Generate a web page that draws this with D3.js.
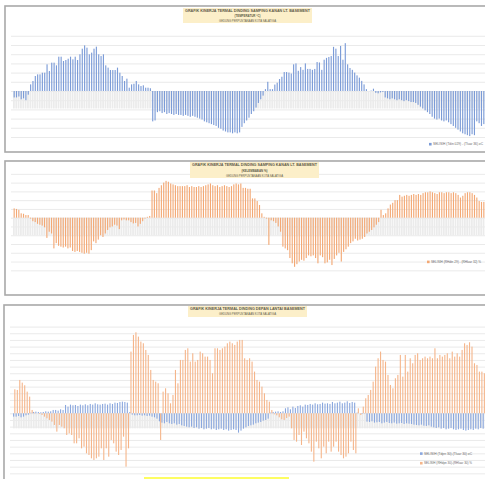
<!DOCTYPE html>
<html>
<head>
<meta charset="utf-8">
<script src="https://cdn.jsdelivr.net/npm/d3@7"></script>
<style>
    body { margin: 0; background: #fff; }
    svg { display: block; font-family: "Liberation Sans", Arial, sans-serif; }
</style>
</head>
<body>
<div id="chart"></div>
<script>
// Panel 1: temperature difference (oC), one bar per reading
const p1Temp = [
    -0.7, -0.7, -0.6, -0.9, -0.8, -1.0, -0.4,
    0.72, 1.09, 1.63, 1.81, 1.81, 1.99, 1.99, 2.9, 2.17, 3.08, 3.08, 2.79, 3.73, 3.73, 3.26, 3.37, 3.51, 3.73,
    3.44, 3.73, 3.37, 3.99, 4.6, 4.96, 4.71, 3.99, 4.17, 4.6, 4.82, 3.99, 3.8, 3.99, 2.79, 2.54, 2.28, 2.28,
    2.28, 2.54, 1.99, 1.63, 1.09, 1.34, 0.36, 0.72, 0.79, 1.09, 0.72, 0.54, 0.62, 0.36, 0.36, 0.3,
    -3.3, -3.2, -2.3, -2.2, -2.4, -2.3, -2.5, -2.4, -2.5, -2.6, -2.5, -2.6, -2.6, -2.7, -2.6, -2.7, -2.8, -2.7,
    -2.8, -2.9, -3.0, -3.1, -3.3, -3.4, -3.5, -3.6, -3.7, -3.8, -4.0, -4.1, -4.3, -4.4, -4.5, -4.5, -4.6, -4.5,
    -4.6, -4.5, -3.9, -3.5, -3.2, -2.9, -2.5, -2.2, -1.8, -1.3, -0.9, -0.5,
    0.2, 1.0, 0.2, 0.2, 0.7, 0.9, 1.3, 1.55, 2.06, 2.06, 2.0, 1.9, 2.9, 3.0, 2.2, 2.6, 2.3, 3.0, 2.4, 2.4, 2.3,
    2.4, 3.15, 3.1, 2.3, 3.4, 3.6, 3.7, 3.8, 4.8, 4.6, 3.8, 4.9, 3.4, 5.2, 2.9, 2.5, 2.3, 2.0, 1.7, 1.45, 1.1,
    0.72, 0.2,
    0.0, 0.05, 0.25, -0.2, -0.25, -0.15, -0.1,
    -0.7, -0.8, -0.9, -0.8, -0.9, -1.0, -0.9, -1.0, -1.1, -1.0, -1.1, -1.2, -1.2, -1.3, -1.5, -1.7, -1.9, -2.1,
    -2.3, -2.5, -2.8, -3.0, -3.1, -3.0, -3.2, -3.3, -3.2, -3.4, -3.6, -3.8, -4.0, -4.2, -4.4, -4.6, -4.7, -4.8,
    -4.9, -4.7, -4.8, -3.3, -3.5, -3.8, -3.6
];

// Panel 2: humidity difference (%)
const p2Humid = [
    1.06, 1.0, 0.9, 0.5, 0.45, 0.3, 0.3, -0.1, -0.4, -0.5, -0.7, -0.8, -0.9, -1.1, -2.3, -1.6, -1.8, -3.5, -2.9,
    -3.2, -3.3, -3.4, -3.3, -3.5, -3.4, -3.8, -3.9, -3.8, -3.9, -4.0, -4.1, -4.0, -4.1, -3.7, -2.7, -2.9, -2.5,
    -2.0, -2.2, -1.8, -1.4, -1.1, -1.0, -0.8, -0.9, -1.3, -0.3, -0.2, -0.3, -0.3, -0.5, -0.65, -0.6, -1.0, -0.7,
    -0.4, -0.1, 0.1, 0.2,
    3.1, 3.1, 2.8, 3.4, 3.7, 4.0, 4.2, 4.1, 3.9, 3.8, 3.7, 3.6, 3.6, 3.6, 3.6, 3.7, 3.5, 3.6, 3.5, 3.5, 3.6, 3.5,
    3.6, 3.7, 3.8, 3.9, 3.7, 3.6, 3.7, 3.5, 3.6, 3.7, 3.6, 3.5, 3.6, 3.8, 3.9, 3.8, 3.9, 3.4, 3.4, 3.3, 3.3, 2.2,
    2.2, 1.9, 1.45, 0.5, 0.1,
    -0.1, -3.1, -0.3, -0.4, -0.6, -1.0, -1.6, -3.3, -3.5, -3.7, -4.6, -5.2, -5.6, -5.3, -5.0, -4.8, -4.9, -4.6,
    -4.3, -4.4, -4.3, -4.6, -5.2, -4.3, -4.5, -5.2, -5.1, -4.8, -5.4, -4.7, -4.3, -4.0, -5.0, -3.9, -3.6, -3.3,
    -2.9, -2.7, -2.4, -2.6, -2.5, -2.4, -2.2, -1.8, -1.6, -1.4, -1.1, -0.8, -0.5,
    0.9, 0.3, 0.5, 1.06, 1.5, 1.7, 2.0, 2.0, 2.6, 2.4, 2.5, 2.6, 2.5, 2.6, 2.7, 2.6, 2.7, 2.6, 2.8, 2.9, 2.9,
    3.0, 2.9, 2.8, 2.7, 2.9, 2.9, 2.8, 2.9, 2.9, 2.8, 2.9, 2.8, 2.6, 2.3, 2.5, 2.8, 2.9, 2.9, 2.8, 2.6, 2.3,
    1.9, 1.8, 1.8
];

// Panel 3: front wall, temperature (blue) and humidity (orange)
const p3Temp = [
    -0.5, -0.5, -0.4, -0.6, -0.5, -0.3, -0.2,
    0.1, 0.2, 0.25, 0.2, 0.15, 0.2, 0.3, 0.25, 0.3,
    0.5, 0.5, 0.4, 0.6, 0.5,
    1.25, 1.0, 1.3, 1.2, 1.25, 1.1, 1.3, 1.2, 1.35, 1.2, 1.4, 1.3, 1.5, 1.35, 1.3, 1.4, 1.45, 1.3, 1.5, 1.4,
    1.6, 1.55, 1.7, 1.75, 1.7, 1.6,
    0.2, -0.2, -0.3, -0.3, -0.25, -0.35, -0.3, -0.4, -0.35, -0.5, -0.6, -0.8,
    -1.2, -1.4, -1.5, -1.3, -1.5, -1.6, -1.5, -1.7, -1.6, -1.8, -1.9,
    -2.0, -2.1, -2.0, -2.2, -2.1, -2.3, -2.2, -2.4, -2.3, -2.2, -2.4, -2.3, -2.5, -2.4, -2.3, -2.5, -2.4, -2.6,
    -2.5, -2.4, -2.5, -2.9, -2.6,
    -2.3, -2.1, -1.9, -1.8, -1.7, -1.5, -1.4, -1.3, -1.1, -1.0, -0.8,
    0.1, 0.2, 0.25, 0.3, 0.2, 0.3,
    0.75, 0.9, 0.6, 1.0, 0.8, 1.1, 1.2, 1.0, 1.3, 1.25, 1.4, 1.3, 1.5, 1.35, 1.4, 1.6, 1.45, 1.5, 1.4, 1.7,
    1.5, 1.6, 1.75, 1.5, 1.6, 1.8, 1.55, 1.7, 1.6,
    0.1, 0.0, -0.1, 0.05,
    -1.25, -1.3, -1.2, -1.4, -1.35, -1.3, -1.5, -1.4, -1.3, -1.45, -1.5, -1.4, -1.55, -1.5, -1.45, -1.6, -1.5,
    -1.55, -1.6,
    -1.7, -1.75, -1.8, -1.7, -1.85, -1.9, -1.8,
    -2.0, -2.1, -2.2, -2.1, -2.3, -2.2, -2.4, -2.3, -2.2, -2.4, -2.5, -2.4, -2.3, -2.5, -2.6, -2.5, -2.4, -2.5,
    -2.3, -2.4, -2.2, -2.3
];
const p3Humid = [
    3.6, 3.5, 5.0, 4.6, 4.2, 3.25, 2.5, 0.5, 0.1, 0.0, -0.1, -0.25, -0.5, -0.75, -1.0, -1.25, -1.75, -2.75,
    -1.75, -2.0, -2.25, -3.25, -3.0, -3.25, -4.5, -4.5, -3.75, -5.25, -5.0, -6.0, -6.25, -6.75, -7.0, -6.75,
    -6.5, -5.25, -7.0, -5.25, -6.5, -4.0, -4.5, -5.75, -6.25, -5.5, -3.5, -8.0, -5.25,
    9.25, 11.75, 12.15, 11.5, 10.75, 10.5, 9.5, 8.75, 6.5, 5.0, 4.75, 4.5, -4.0, 3.25, 3.75, 3.0, 1.5, 2.75,
    6.5, 4.5, 8.0, 8.0, 9.5, 9.75, 7.75, 9.0, 7.75, 8.0, 9.25, 9.0, 8.5, 8.5, 8.0, 6.0, 9.75, 9.75, 9.5, 9.75,
    10.0, 10.5, 10.75, 10.5, 10.25, 10.75, 11.0, 11.0, 8.25, 8.0, 8.25, 7.75, 6.25, 5.0, 4.75, 4.0, 3.0, 2.0,
    1.75, 0.5,
    -0.15, -0.3, -0.6, -0.9, -1.0, -0.7, -0.5, -2.25, -4.0, -4.25, -3.25, -4.75, -2.75, -3.75, -4.5, -5.75,
    -7.25, -4.25, -5.25, -6.75, -5.0, -6.0, -4.25, -5.75, -5.0, -4.25, -5.75, -6.25, -6.75, -6.5, -6.0, -4.25,
    -5.5, -6.0,
    0.75, -0.25, 1.0, 2.25, 2.75, 3.5, 4.75, 7.0, 8.25, 9.25, 8.0, 7.75, 5.75, 4.25, 3.75, 5.25, 5.75, 8.75,
    5.5, 8.75, 6.25, 8.25, 7.5, 8.75, 9.0, 8.0, 8.25, 8.5, 8.25, 8.5, 8.25, 9.75, 8.25, 8.75, 8.5, 8.75, 9.0,
    8.25, 9.25, 8.5, 9.0, 8.5, 9.5, 10.5, 10.25, 10.65, 10.0, 7.5, 7.25, 6.25, 6.25, 6.0
];

// Grey reference band below zero in each panel
const bandDepth = [-1.9, -2.0, -2.25];

const titles1 = ["GRAFIK KINERJA TERMAL DINDING SAMPING KANAN LT. BASEMENT", "(TEMPERATUR °C)", "GEDUNG PERPUSTAKAAN KOTA SALATIGA"];
const titles2 = ["GRAFIK KINERJA TERMAL DINDING SAMPING KANAN LT. BASEMENT", "(KELEMBABAN %)", "GEDUNG PERPUSTAKAAN KOTA SALATIGA"];
const titles3 = ["GRAFIK KINERJA TERMAL DINDING DEPAN LANTAI BASEMENT", "GEDUNG PERPUSTAKAAN KOTA SALATIGA"];
const legend1 = ["SELISIH (Tdin 029) - (Tluar 36) oC"];
const legend2 = ["SELISIH (RHdin 29) - (RHluar 32) %"];
const legend3 = ["SELISIH (Tdpn 30)-(Tluar 30) oC", "SELISIH (RHdpn 30)-(RHluar 30) %"];

const BLUE = "#7b9bd7";
const ORANGE = "#f3a874";

const svg = d3.select("#chart").append("svg")
    .attr("width", 485)
    .attr("height", 479);

function drawPanel(p) {
    const g = svg.append("g");

    // Frame
    g.append("rect")
        .attr("x", p.frame[0]).attr("y", p.frame[1])
        .attr("width", p.frame[2]).attr("height", p.frame[3])
        .attr("fill", "#fff")
        .attr("stroke", "#a9a9a9")
        .attr("stroke-width", 1.6);

    const n = d3.max(p.series, s => s.values.length);
    const x = d3.scaleBand()
        .domain(d3.range(n))
        .range([p.x0, p.x1]);
    const y = d3.scaleLinear()
        .domain(p.yDomain)
        .range([p.zeroY - p.yDomain[0] * p.unit, p.zeroY - p.yDomain[1] * p.unit]);

    // Horizontal grid lines
    const grid = g.append("g")
        .attr("transform", `translate(${p.gridX},0)`)
        .call(d3.axisLeft(y)
            .tickValues(d3.range(p.yDomain[0], p.yDomain[1] + 1))
            .tickSize(-(500 - p.gridX))
            .tickFormat(""));
    grid.select(".domain").remove();
    grid.selectAll(".tick line").attr("stroke", "#e4e4e4").attr("stroke-width", 0.8);

    // Grey band bars
    g.append("g").selectAll("rect")
        .data(d3.range(n))
        .join("rect")
        .attr("x", i => x(i))
        .attr("width", x.bandwidth() * 0.75)
        .attr("y", y(0))
        .attr("height", y(p.band) - y(0))
        .attr("fill", "#ebebeb");

    // Series bars
    const sub = d3.scaleBand()
        .domain(d3.range(p.series.length))
        .range([0, x.bandwidth()])
        .padding(p.barPad);
    p.series.forEach((s, k) => {
        g.append("g").selectAll("rect")
            .data(s.values)
            .join("rect")
            .attr("x", (d, i) => x(i) + sub(k))
            .attr("width", sub.bandwidth())
            .attr("y", d => y(Math.max(0, d)))
            .attr("height", d => Math.abs(y(d) - y(0)))
            .attr("fill", s.color);
    });

    // Title box
    g.append("rect")
        .attr("x", p.titleBox[0]).attr("y", p.titleBox[1])
        .attr("width", p.titleBox[2]).attr("height", p.titleBox[3])
        .attr("fill", "#fcefc9");
    g.selectAll(".ttl")
        .data(p.titles)
        .join("text")
        .attr("x", p.titleBox[0] + p.titleBox[2] / 2)
        .attr("y", (d, i) => p.titleY[i])
        .attr("text-anchor", "middle")
        .attr("font-size", (d, i) => p.titleSize[i])
        .attr("font-weight", (d, i) => i === p.titles.length - 1 ? "normal" : "bold")
        .attr("textLength", (d, i) => p.titleLen[i])
        .attr("lengthAdjust", "spacingAndGlyphs")
        .attr("fill", "#5e5a48")
        .text(d => d);

    // Legend
    p.legend.forEach((t, k) => {
        const ly = p.legendY[k];
        g.append("rect")
            .attr("x", p.legendX).attr("y", ly - 1.4)
            .attr("width", 2.6).attr("height", 2.6)
            .attr("fill", p.series[p.legendSeries[k]].color);
        g.append("text")
            .attr("x", p.legendX + 4).attr("y", ly + 1.1)
            .attr("font-size", 3.4)
            .attr("textLength", p.legendLen)
            .attr("lengthAdjust", "spacingAndGlyphs")
            .attr("fill", "#6a6a6a")
            .text(t);
    });
}

drawPanel({
    frame: [5, 6, 500, 146],
    x0: 13, x1: 485, gridX: 11,
    yDomain: [-5, 6], zeroY: 91, unit: 9.2,
    band: bandDepth[0], barPad: 0.35,
    series: [{ values: p1Temp, color: BLUE }],
    titles: titles1, titleBox: [183, 8, 129, 15],
    titleY: [11.6, 16.6, 21.6], titleSize: [4, 4, 3.5], titleLen: [125, 26, 57],
    legend: legend1, legendSeries: [0], legendX: 429, legendY: [144.3], legendLen: 50
});

drawPanel({
    frame: [5, 161, 500, 134],
    x0: 13, x1: 485, gridX: 11,
    yDomain: [-6, 5], zeroY: 217.7, unit: 8.77,
    band: bandDepth[1], barPad: 0.35,
    series: [{ values: p2Humid, color: ORANGE }],
    titles: titles2, titleBox: [190, 162, 129, 16],
    titleY: [166.3, 171.8, 176.5], titleSize: [4, 4, 3.5], titleLen: [125, 26, 57],
    legend: legend2, legendSeries: [0], legendX: 427, legendY: [262], legendLen: 50
});

drawPanel({
    frame: [4, 305, 500, 200],
    x0: 13, x1: 485, gridX: 10,
    yDomain: [-10, 13], zeroY: 413.3, unit: 6.67,
    band: bandDepth[2], barPad: 0.08,
    series: [{ values: p3Temp, color: "#8aa7de" }, { values: p3Humid, color: "#f5b58a" }],
    titles: titles3, titleBox: [188, 306, 119, 11],
    titleY: [310.2, 314.8], titleSize: [4, 3.5], titleLen: [115, 57],
    legend: legend3, legendSeries: [0, 1], legendX: 420, legendY: [453.7, 463.3], legendLen: 48
});

// Yellow highlight strip at the bottom edge
svg.append("rect")
    .attr("x", 144).attr("y", 477)
    .attr("width", 145).attr("height", 3)
    .attr("fill", "#fdfd62");
</script>
</body>
</html>
